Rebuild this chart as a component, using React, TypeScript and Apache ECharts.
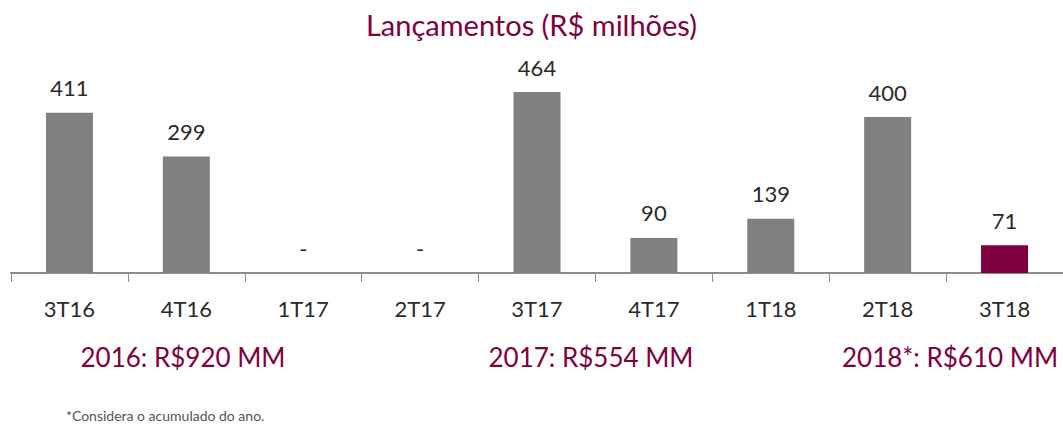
import React, { useEffect, useRef } from "react";
import * as echarts from "echarts";

const categories = ["3T16", "4T16", "1T17", "2T17", "3T17", "4T17", "1T18", "2T18", "3T18"];
const values = [411, 299, 0, 0, 464, 90, 139, 400, 71];
const highlightIndex = 8;
const yearNotes = [
  { text: "2016: R$920 MM", x: 183 },
  { text: "2017: R$554 MM", x: 591 },
  { text: "2018*: R$610 MM", x: 950 },
];
const titleText = "Lançamentos (R$ milhões)";
const footnote = "*Considera o acumulado do ano.";

const GRAY = "#808080";
const MAROON = "#7F003F";
const FONT = "Lato, 'Open Sans', sans-serif";

export default function App() {
  const ref = useRef<HTMLDivElement>(null);
  useEffect(() => {
    if (!ref.current) return;
    const chart = echarts.init(ref.current, undefined, { renderer: "svg" });
    chart.setOption({
      animation: false,
      textStyle: { fontFamily: FONT },
      title: {
        text: titleText,
        left: "center",
        top: 5,
        textStyle: { color: MAROON, fontSize: 29, fontWeight: "normal", fontFamily: FONT },
      },
      grid: { left: 11, right: 0, top: 39, height: 234 },
      xAxis: {
        type: "category",
        data: categories,
        axisLine: { lineStyle: { color: "#8c8c8c", width: 2 } },
        axisTick: { show: true, length: 9, lineStyle: { color: "#8c8c8c", width: 1 } },
        axisLabel: { color: "#2a2a2a", fontSize: 22, margin: 24, fontFamily: FONT },
      },
      yAxis: {
        type: "value",
        min: 0,
        max: 600,
        show: false,
        splitLine: { show: false },
      },
      series: [
        {
          type: "bar",
          barWidth: 47,
          data: values.map((v, i) => ({
            value: v,
            itemStyle: { color: i === highlightIndex ? MAROON : GRAY },
          })),
          label: {
            show: true,
            position: "top",
            distance: 14,
            color: "#2a2a2a",
            fontSize: 22,
            fontFamily: FONT,
            formatter: (p: any) => (p.value === 0 ? "-" : String(p.value)),
          },
        },
      ],
      graphic: [
        ...yearNotes.map((n) => ({
          type: "text",
          x: n.x,
          y: 357,
          style: {
            text: n.text,
            fill: MAROON,
            fontSize: 26,
            fontFamily: FONT,
            textAlign: "center",
            textVerticalAlign: "middle",
          },
        })),
        {
          type: "text",
          x: 66,
          y: 415,
          style: {
            text: footnote,
            fill: "#555",
            fontSize: 14,
            fontFamily: FONT,
            textAlign: "left",
            textVerticalAlign: "middle",
          },
        },
      ],
    });
    return () => chart.dispose();
  }, []);
  return <div ref={ref} style={{ width: 1063, height: 425, position: "absolute", left: 0, top: 0 }} />;
}
